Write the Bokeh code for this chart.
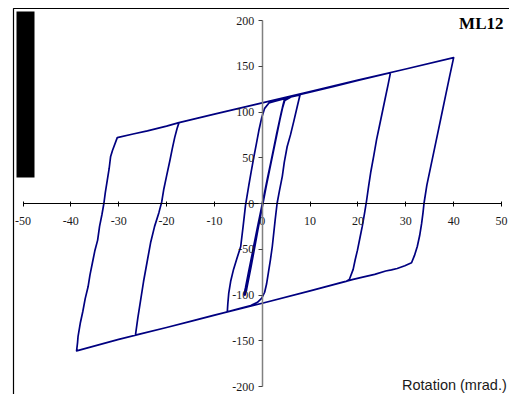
from bokeh.plotting import figure
from bokeh.models import Range1d, LinearAxis, FixedTicker, Label, BoxAnnotation
from bokeh.embed import file_html
from bokeh.resources import INLINE

# Moment-rotation hysteresis of specimen ML12 (rotation in mrad, moment in kNm)
rotation = [
    # small elastic cycles
    0.0, 1.0, 2.0, 3.0, 4.0, 4.5, 4.7,
    4.4, 3.4, 2.3, 1.2, 0.3, -0.8, -1.9, -2.9, -3.5, -3.8,
    -3.6, -3.2, -2.3, -1.3, -0.2, 0.9, 2.0, 3.0, 4.0, 4.6,
    4.3, 3.3, 2.2, 1.1, 0.1, -1.0, -2.0, -2.8, -3.3, -3.7,
    -3.3, -2.4, -1.4, -0.3, 0.8, 1.9, 3.0, 4.1, 4.7,
    # +/- 8 mrad cycle
    6.0, 7.9,
    7.4, 6.6, 5.9, 5.2, 4.6, 4.2, 3.6, 3.1, 2.7, 2.1, 1.7, 1.3, 0.9, 0.5, -0.1, -1.0, -2.4,
    -5.0, -7.3,
    -7.2, -7.0, -6.6, -6.0, -5.3, -4.5, -4.0, -3.5, -2.8, -2.3, -1.75, -1.2, -0.7, -0.1, 0.5, 1.4, 2.5,
    # +/- 27 mrad cycle
    8.0, 15.0, 20.0, 26.8,
    26.3, 25.7, 25.1, 24.5, 23.9, 23.3, 22.7, 22.2, 21.8, 21.4, 20.9, 20.4, 19.9, 19.4, 19.0, 18.5, 18.2, 17.5,
    10.0, 0.0, -7.3, -15.0, -20.0, -26.5,
    -26.0, -25.4, -24.8, -24.0, -23.3, -22.5, -21.6, -21.0, -20.6, -20.0, -19.3, -18.8, -18.3, -17.8, -17.4,
    # +/- 40 mrad cycle
    -10.0, 0.0, 10.0, 20.0, 30.0, 40.0,
    39.2, 38.4, 37.6, 36.8, 36.0, 35.2, 34.4, 33.8, 33.6, 33.3, 32.9, 32.4, 31.8, 31.2,
    29.8, 28.2, 27.0, 25.8, 23.5, 21.0, 19.0,
    10.0, 0.0, -10.0, -20.0, -30.0, -38.8,
    -38.6, -38.5, -38.0, -37.5, -37.0, -36.4, -36.0, -35.5, -35.0, -34.4, -34.0, -33.5, -33.1,
    -32.8, -32.4, -32.0, -31.7, -31.3, -30.3,
    -27.0, -24.0, -20.0, -17.4, -10.0, -2.0,
]
moment = [
    0, 25, 50, 75, 100, 110, 113,
    108, 85, 58, 30, 5, -22, -50, -76, -92, -99,
    -100, -92, -68, -40, -8, 22, 50, 76, 100, 113,
    107, 82, 55, 28, 2, -26, -52, -78, -95, -100,
    -90, -68, -42, -12, 18, 46, 74, 102, 112.5,
    116.5, 118.8,
    108, 90, 75, 62, 45, 30, 14, 0, -18, -47, -62, -75, -88, -97, -103.5, -108, -111.6,
    -115, -118.3,
    -110, -98, -85, -72, -60, -47, -25, -2, 20, 35, 51, 66, 80, 94, 104, 109.8, 111.5,
    119.3, 128, 134.5, 143,
    130, 115, 100, 85, 70, 52, 35, 18, 3, -10, -25, -38, -51, -62, -72, -79, -83, -85.2,
    -95.5, -109, -118.5, -129, -135.5, -143.8,
    -125, -105, -85, -62, -42, -25, -10, 2, 15, 30, 47, 60, 72, 82, 88.4,
    97.6, 110, 122.4, 134.8, 147, 159.4,
    140, 120, 100, 80, 60, 40, 20, 0, -10, -22, -35, -47, -57, -64.7,
    -68, -71, -72.5, -73.8, -77.5, -80.5, -83,
    -95.5, -109, -122, -135.5, -148.5, -161,
    -152, -145.6, -130, -118, -104, -91, -78, -65, -52, -40, -25, -12, 0,
    12, 25, 38, 51, 58, 72,
    76, 79.3, 84.5, 88.4, 97.6, 107.5,
]

x_ticks = [-50, -40, -30, -20, -10, 0, 10, 20, 30, 40, 50]
y_ticks = [-200, -150, -100, -50, 0, 50, 100, 150, 200]

W, H = 509, 394
X_LO, X_HI = -50, 50
Y_LO, Y_HI = -200, 200
# canvas pixels where the axis ends fall
PX_L, PX_R = 22.5, 501.0
PY_T, PY_B = 20.0, 386.0
sx = (PX_R - PX_L) / (X_HI - X_LO)
sy = (PY_B - PY_T) / (Y_HI - Y_LO)


def dx(px):
    return X_LO + (px - PX_L) / sx


def dy(py):
    return Y_HI - (py - PY_T) / sy


p = figure(
    width=W, height=H,
    x_range=Range1d(dx(0), dx(W)), y_range=Range1d(dy(H), dy(0)),
    output_backend="svg", toolbar_location=None,
    x_axis_location=None, y_axis_location=None,
    min_border=0,
)
p.outline_line_color = None
p.background_fill_color = "white"
p.border_fill_color = "white"
p.grid.grid_line_color = None

# axes crossing at the origin, labels written with a plain hyphen
xax = LinearAxis(fixed_location=0, bounds=(X_LO, X_HI), ticker=FixedTicker(ticks=x_ticks))
xax.major_label_overrides = {t: str(t) for t in x_ticks}
xax.axis_line_color = "black"
xax.major_tick_line_color = "black"
xax.major_tick_in = 2
xax.major_tick_out = 3
xax.minor_tick_line_color = None
xax.major_label_text_font = "Liberation Serif"
xax.major_label_text_font_size = "12px"
xax.major_label_text_color = "#1a1a1a"
xax.major_label_standoff = 10
p.add_layout(xax, "below")

yax = LinearAxis(fixed_location=0, bounds=(Y_LO, Y_HI), ticker=FixedTicker(ticks=y_ticks))
yax.major_label_overrides = {t: str(t) for t in y_ticks}
yax.axis_line_color = "#808080"
yax.axis_line_width = 1.5
yax.major_tick_line_color = "#404040"
yax.major_tick_in = 0
yax.major_tick_out = 4
yax.minor_tick_line_color = None
yax.major_label_text_font = "Liberation Serif"
yax.major_label_text_font_size = "12px"
yax.major_label_text_color = "#1a1a1a"
yax.major_label_standoff = 4
p.add_layout(yax, "left")

# chart border (left and top edges)
p.line([dx(13), dx(13), dx(W)], [dy(H), dy(8), dy(8)], line_color="black", line_width=1.2)

# dark block on the left
p.add_layout(BoxAnnotation(left=dx(16), right=dx(34), top=dy(11), bottom=dy(177),
                           fill_color="black", fill_alpha=1.0, line_color=None))

# hysteresis curve
p.line(rotation, moment, line_color="#000080", line_width=1.7, line_join="round")

p.add_layout(Label(x=dx(503), y=dy(13), text="ML12", text_align="right", text_baseline="top",
                   text_font="Liberation Serif", text_font_style="bold", text_font_size="17px",
                   text_color="black"))
p.add_layout(Label(x=dx(401.5), y=dy(376), text="Rotation (mrad.)", text_align="left",
                   text_baseline="top", text_font="Liberation Sans",
                   text_font_size="14.5px", text_color="#1a1a1a"))

open("out.html", "w").write(file_html(p, INLINE))
